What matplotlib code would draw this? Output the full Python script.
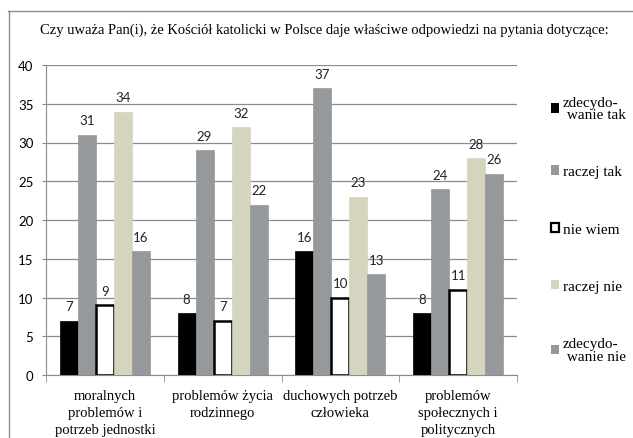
import numpy as np
import matplotlib
matplotlib.use("Agg")
import matplotlib.pyplot as plt
from matplotlib.patches import Patch
from matplotlib.lines import Line2D
from matplotlib.font_manager import FontProperties

title = "Czy uważa Pan(i), że Kościół katolicki w Polsce daje właściwe odpowiedzi na pytania dotyczące:"
categories = ["moralnych\nproblemów i\npotrzeb jednostki",
              "problemów życia\nrodzinnego",
              "duchowych potrzeb\nczłowieka",
              "problemów\nspołecznych i\npolitycznych"]
series_names = ["zdecydo-\n wanie tak", "raczej tak", "nie wiem", "raczej nie", "zdecydo-\n wanie nie"]
zdec_tak = [7, 8, 16, 8]
raczej_tak = [31, 29, 37, 24]
nie_wiem = [9, 7, 10, 11]
raczej_nie = [34, 32, 23, 28]
zdec_nie = [16, 22, 13, 26]
yticks = [0, 5, 10, 15, 20, 25, 30, 35, 40]

series = [zdec_tak, raczej_tak, nie_wiem, raczej_nie, zdec_nie]
faces = ["#000000", "#96999b", "#ffffff", "#d5d4be", "#96999b"]
edges = ["#000000", "#96999b", "#000000", "#d5d4be", "#96999b"]
lws = [0.5, 0.5, 1.8, 0.5, 0.5]

serif = "Liberation Serif"
sans = "Lato"

fig = plt.figure(figsize=(6.33, 4.39), dpi=100)
ax = fig.add_axes([46 / 633, 1 - 376 / 439, 471 / 633, 310 / 439])

x = np.arange(len(categories))
w = 0.153
for k, vals in enumerate(series):
    bars = ax.bar(x + (k - 2) * w, vals, width=w, color=faces[k], edgecolor=edges[k],
                  linewidth=lws[k], zorder=3)
    ax.bar_label(bars, padding=6, fontsize=9.5, family=sans, color="#222222")

ax.set_ylim(0, 40)
ax.set_xlim(-0.5, 3.5)
ax.set_yticks(yticks)
ax.yaxis.grid(True, color="#8c8c8c", linewidth=0.9, zorder=0)
ax.set_axisbelow(True)
for s in ["top", "right"]:
    ax.spines[s].set_visible(False)
for s in ["left", "bottom"]:
    ax.spines[s].set_color("#8c8c8c")
ax.tick_params(axis="y", length=3, color="#8c8c8c", pad=6, labelsize=9.5)
for t in ax.get_yticklabels():
    t.set_family(sans)

ax.set_xticks(x)
ax.set_xticklabels(categories, family=serif, fontsize=10.5, linespacing=1.4)
ax.set_xticks(np.arange(-0.5, 4, 1), minor=True)
ax.tick_params(axis="x", which="major", length=0, pad=10)
ax.tick_params(axis="x", which="minor", length=5, color="#8c8c8c")

fig.text(0.513, 1 - 30 / 439, title, family=serif, fontsize=10.5, ha="center", va="center")

# outer frame
fig.add_artist(Line2D([8 / 633, 1], [1 - 12 / 439, 1 - 12 / 439], color="#8c8c8c", lw=1))
fig.add_artist(Line2D([9 / 633, 9 / 633], [0, 1 - 12 / 439], color="#8c8c8c", lw=1))

handles = [Patch(facecolor=faces[k], edgecolor=edges[k], linewidth=1.6 if k == 2 else 0)
           for k in range(5)]
leg = fig.legend(handles, series_names, loc="upper left", bbox_to_anchor=(543 / 633, 1 - 89 / 439),
                 frameon=False, prop=FontProperties(family=serif, size=11),
                 handlelength=0.55, handleheight=0.55, handletextpad=0.25,
                 labelspacing=2.9, borderpad=0)
for t in leg.get_texts():
    t.set_linespacing(0.95)

fig.savefig("out.png", dpi=100)
